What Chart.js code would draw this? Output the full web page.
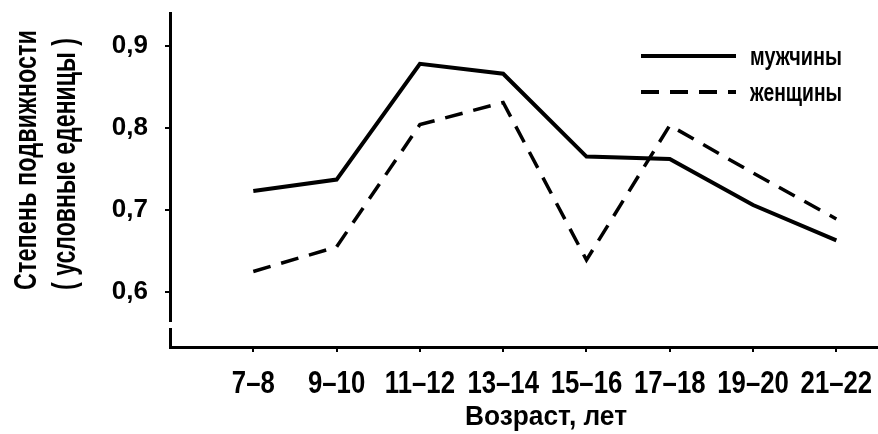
<!DOCTYPE html>
<html>
<head>
<meta charset="utf-8">
<script src="https://cdn.jsdelivr.net/npm/chart.js@4/dist/chart.umd.min.js"></script>
<style>
  html, body { margin: 0; padding: 0; background: #fff; }
  #wrap { width: 878px; height: 434px; }
</style>
</head>
<body>
<div id="wrap"><canvas id="chart" width="878" height="434"></canvas></div>
<script>
const ageGroups = ['7–8', '9–10', '11–12', '13–14', '15–16', '17–18', '19–20', '21–22'];
const men = [0.723, 0.737, 0.878, 0.866, 0.765, 0.762, 0.706, 0.663];
const women = [0.625, 0.655, 0.804, 0.831, 0.639, 0.803, 0.745, 0.689];
const yTicks = [0.6, 0.7, 0.8, 0.9];
const yTitle = ['Степень подвижности', '( условные еденицы )'];
const xTitle = 'Возраст, лет';

const FONT = "'Liberation Sans', Arial, sans-serif";

const toPoints = (vals) => vals.map((v, i) => ({ x: i, y: v }));

// the original uses a tall condensed face, so squeeze text horizontally
const squeezed = (ctx, text, size, x, y, opts = {}) => {
    ctx.save();
    ctx.font = `bold ${size}px ${FONT}`;
    const w = ctx.measureText(text).width;
    const sx = opts.width ? opts.width / w : (opts.sx || 1);
    ctx.translate(x, y);
    if (opts.rotate) ctx.rotate(opts.rotate);
    ctx.scale(sx, 1);
    ctx.textAlign = opts.align || 'center';
    ctx.textBaseline = 'alphabetic';
    ctx.fillText(text, 0, 0);
    ctx.restore();
};

const decor = {
    id: 'decor',
    afterDraw(chart) {
        const ctx = chart.ctx;
        const xs = chart.scales.x;
        ctx.save();

        // little break in the y axis near the bottom
        ctx.fillStyle = '#fff';
        ctx.fillRect(166, 322, 8, 6);
        ctx.fillStyle = '#000';

        ageGroups.forEach((lab, i) => {
            squeezed(ctx, lab, 31, xs.getPixelForValue(i), 393, { sx: 0.83 });
        });

        squeezed(ctx, xTitle, 27, 546, 425, { width: 162 });

        squeezed(ctx, yTitle[0], 32, 36, 160, { width: 260, rotate: -Math.PI / 2 });
        squeezed(ctx, yTitle[1], 34, 75, 164, { width: 252, rotate: -Math.PI / 2 });

        chart.data.datasets.forEach((ds, i) => {
            const y = 56 + i * 36;
            ctx.beginPath();
            ctx.lineWidth = 4;
            ctx.strokeStyle = '#000';
            ctx.setLineDash(ds.borderDash || []);
            ctx.moveTo(641, y);
            ctx.lineTo(736, y);
            ctx.stroke();
            ctx.setLineDash([]);
            squeezed(ctx, ds.label, 26, 750, y + 9, { width: 92, align: 'left' });
        });
        ctx.restore();
    }
};

new Chart(document.getElementById('chart'), {
    type: 'line',
    data: {
        datasets: [
            {
                label: 'мужчины',
                data: toPoints(men),
                borderColor: '#000',
                borderWidth: 4,
                pointRadius: 0,
                tension: 0,
            },
            {
                label: 'женщины',
                data: toPoints(women),
                borderColor: '#000',
                borderWidth: 3.5,
                borderDash: [18, 11],
                pointRadius: 0,
                tension: 0,
            },
        ],
    },
    options: {
        responsive: false,
        animation: false,
        layout: { padding: { top: 13, right: 0, left: 0, bottom: 0 } },
        plugins: { legend: { display: false }, tooltip: { enabled: false } },
        scales: {
            x: {
                type: 'linear',
                min: -1,
                max: 7.5,
                afterBuildTicks: (s) => { s.ticks = ageGroups.map((_, i) => ({ value: i })); },
                afterFit: (s) => { s.height = 87; s.paddingLeft = 0; s.paddingRight = 0; },
                ticks: { display: false },
                grid: { drawOnChartArea: false, drawTicks: true, tickLength: 5, color: '#000', lineWidth: 2 },
                border: { display: true, color: '#000', width: 3 },
            },
            y: {
                min: 0.533,
                max: 0.94,
                afterBuildTicks: (s) => { s.ticks = yTicks.map((v) => ({ value: v })); },
                afterFit: (s) => { s.width = 170; s.paddingTop = 0; s.paddingBottom = 0; },
                ticks: {
                    color: '#000',
                    padding: 17,
                    font: { family: FONT, size: 26, weight: 'bold' },
                    callback: (v) => v.toFixed(1).replace('.', ','),
                },
                grid: { drawOnChartArea: false, drawTicks: true, tickLength: 5, color: '#000', lineWidth: 2 },
                border: { display: true, color: '#000', width: 3 },
            },
        },
    },
    plugins: [decor],
});
</script>
</body>
</html>
